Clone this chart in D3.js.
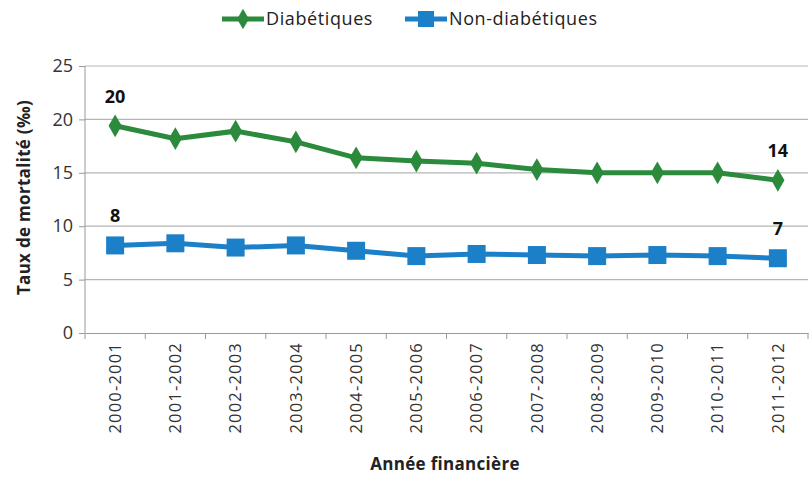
<!DOCTYPE html>
<html>
<head>
<meta charset="utf-8">
<script src="https://cdn.jsdelivr.net/npm/d3@7"></script>
<style>
  body { margin: 0; background: #fff; }
  svg text { font-family: "Open Sans", sans-serif; }
</style>
</head>
<body>
<svg id="chart" width="810" height="477"></svg>
<script>
var years = ["2000-2001", "2001-2002", "2002-2003", "2003-2004", "2004-2005", "2005-2006",
             "2006-2007", "2007-2008", "2008-2009", "2009-2010", "2010-2011", "2011-2012"];
var diabetiques = [19.4, 18.2, 18.9, 17.9, 16.4, 16.1, 15.9, 15.3, 15.0, 15.0, 15.0, 14.3];
var nonDiabetiques = [8.2, 8.4, 8.0, 8.2, 7.7, 7.2, 7.4, 7.3, 7.2, 7.3, 7.2, 7.0];
var yTicks = [0, 5, 10, 15, 20, 25];
var endLabels = [
  {serie: "d", idx: 0, text: "20"}, {serie: "d", idx: 11, text: "14"},
  {serie: "n", idx: 0, text: "8"}, {serie: "n", idx: 11, text: "7"}
];

var green = "#2b8a3c", blue = "#1c80c9";
var margin = {top: 66, right: 2, bottom: 144, left: 85};
var width = 810 - margin.left - margin.right;
var height = 477 - margin.top - margin.bottom;

var x = d3.scaleBand().domain(years).range([0, width]);
var y = d3.scaleLinear().domain([0, 25]).range([height, 0]);

var svg = d3.select("#chart");
var chart = svg.append("g")
  .attr("transform", "translate(" + margin.left + "," + margin.top + ")");

// grid
chart.selectAll(".grid").data(yTicks.filter(function(d) { return d > 0; }))
  .enter().append("line")
  .attr("x1", 0).attr("x2", width)
  .attr("y1", function(d) { return y(d); }).attr("y2", function(d) { return y(d); })
  .attr("stroke", "#b5b5b5").attr("stroke-width", 1.2);

// y axis
var yAxis = d3.axisLeft(y).tickValues(yTicks).tickSize(6).tickPadding(6);
var gy = chart.append("g").call(yAxis);
gy.select(".domain").attr("stroke", "#999").attr("d", "M0," + height + "V0");
gy.selectAll(".tick line").attr("stroke", "#999");
gy.selectAll("text").attr("font-size", 18).attr("fill", "#333");

// x axis
var xAxis = d3.axisBottom(x).tickSize(0).tickPadding(8);
var gx = chart.append("g").attr("transform", "translate(0," + height + ")").call(xAxis);
gx.select(".domain").attr("stroke", "#999");
gx.selectAll(".tick text")
  .attr("font-size", 16.5).attr("fill", "#333")
  .attr("letter-spacing", 1.2)
  .attr("transform", "rotate(-90)")
  .attr("x", -9).attr("y", 0).attr("dy", "0.35em")
  .style("text-anchor", "end");
gx.selectAll(".sep").data(years.concat(["end"]))
  .enter().append("line")
  .attr("x1", function(d, i) { return i * x.bandwidth(); })
  .attr("x2", function(d, i) { return i * x.bandwidth(); })
  .attr("y1", 0).attr("y2", 6)
  .attr("stroke", "#999");

function cx(i) { return x(years[i]) + x.bandwidth() / 2; }

var line = d3.line()
  .x(function(d, i) { return cx(i); })
  .y(function(d) { return y(d); });

// Diabétiques
chart.append("path").datum(diabetiques)
  .attr("d", line).attr("fill", "none")
  .attr("stroke", green).attr("stroke-width", 5);
chart.selectAll(".diam").data(diabetiques).enter().append("path")
  .attr("d", d3.symbol().type(d3.symbolDiamond).size(150))
  .attr("transform", function(d, i) { return "translate(" + cx(i) + "," + y(d) + ")"; })
  .attr("fill", green);

// Non-diabétiques
chart.append("path").datum(nonDiabetiques)
  .attr("d", line).attr("fill", "none")
  .attr("stroke", blue).attr("stroke-width", 5);
chart.selectAll(".sq").data(nonDiabetiques).enter().append("rect")
  .attr("x", function(d, i) { return cx(i) - 9; })
  .attr("y", function(d) { return y(d) - 9; })
  .attr("width", 18).attr("height", 18)
  .attr("fill", blue);

// value labels
chart.selectAll(".lbl").data(endLabels).enter().append("text")
  .attr("x", function(d) { return cx(d.idx); })
  .attr("y", function(d) {
    var v = d.serie === "d" ? diabetiques[d.idx] : nonDiabetiques[d.idx];
    return y(v) - 23;
  })
  .attr("text-anchor", "middle")
  .attr("font-size", 18).attr("font-weight", "bold").attr("fill", "#111")
  .text(function(d) { return d.text; });

// axis titles
svg.append("text")
  .attr("transform", "translate(30," + (margin.top + height / 2 - 2) + ") rotate(-90)")
  .attr("text-anchor", "middle")
  .attr("font-size", 17).attr("font-weight", "bold").attr("fill", "#222")
  .attr("letter-spacing", 0.3)
  .text("Taux de mortalité (‰)");
svg.append("text")
  .attr("x", 445).attr("y", 470)
  .attr("text-anchor", "middle")
  .attr("font-size", 17).attr("font-weight", "bold").attr("fill", "#222")
  .attr("letter-spacing", 0.3)
  .text("Année financière");

// legend
var legend = [
  {name: "Diabétiques", color: green, shape: "diamond", x: 222},
  {name: "Non-diabétiques", color: blue, shape: "square", x: 405}
];
var lg = svg.selectAll(".legend").data(legend).enter().append("g")
  .attr("transform", function(d) { return "translate(" + d.x + ",19)"; });
lg.append("line").attr("x1", 0).attr("x2", 42).attr("y1", 0).attr("y2", 0)
  .attr("stroke", function(d) { return d.color; }).attr("stroke-width", 5);
lg.each(function(d) {
  var g = d3.select(this);
  if (d.shape === "diamond") {
    g.append("path").attr("d", d3.symbol().type(d3.symbolDiamond).size(120))
      .attr("transform", "translate(21,0)").attr("fill", d.color);
  } else {
    g.append("rect").attr("x", 13).attr("y", -8).attr("width", 16).attr("height", 16)
      .attr("fill", d.color);
  }
});
lg.append("text").attr("x", 44).attr("y", 0).attr("dy", "0.35em")
  .attr("font-size", 18).attr("fill", "#222").attr("letter-spacing", 0.6)
  .text(function(d) { return d.name; });
</script>
</body>
</html>
